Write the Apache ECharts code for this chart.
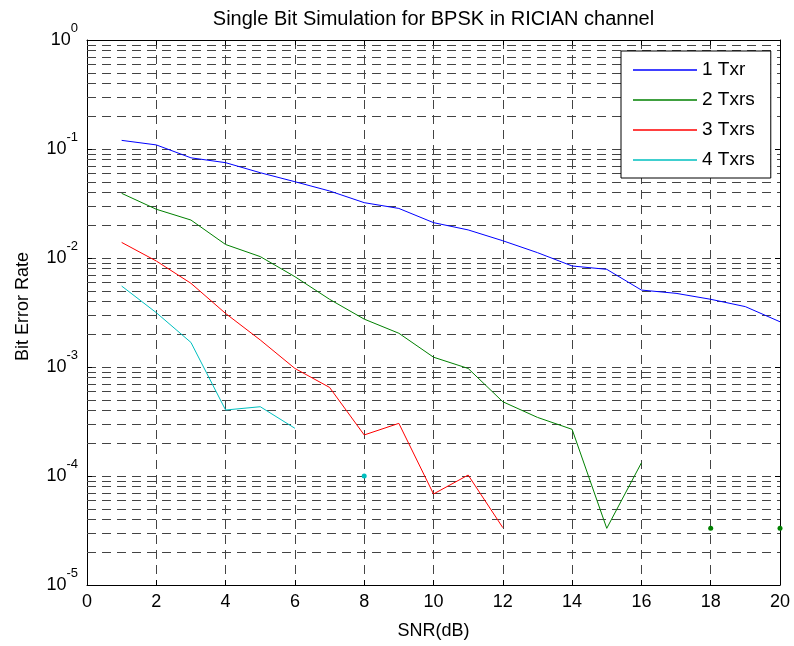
<!DOCTYPE html>
<html>
<head>
<meta charset="utf-8">
<script src="https://cdn.jsdelivr.net/npm/echarts@6/dist/echarts.min.js"></script>
<style>html,body{margin:0;padding:0;background:#fff}#c{width:794px;height:646px}</style>
</head>
<body>
<div id="c"></div>
<script>
// ---- data ----
var titleText = 'Single Bit Simulation for BPSK in RICIAN channel';
var xName = 'SNR(dB)';
var yName = 'Bit Error Rate';
var snr = [1,2,3,4,5,6,7,8,9,10,11,12,13,14,15,16,17,18,19,20];
var seriesNames = ['1 Txr', '2 Txrs', '3 Txrs', '4 Txrs'];
var ber1 = [0.120, 0.109, 0.083, 0.0749, 0.0606, 0.0501, 0.0412, 0.0322, 0.0285, 0.0211,
            0.0181, 0.0144, 0.0112, 0.00845, 0.00787, 0.00508, 0.00474, 0.00418, 0.00358, 0.0026];
var ber2 = [0.0392, 0.0280, 0.0223, 0.0133, 0.0103, 0.00674, 0.00418, 0.00275, 0.00204, 0.00123,
            0.00097, 0.00048, 0.000345, 0.000268, 0.0000331, 0.000132, null, 0.0000331, null, 0.0000331];
var ber3 = [0.0139, 0.00938, 0.00586, 0.0031, 0.00177, 0.00097, 0.00065, 0.000238, 0.000304, 0.0000684,
            0.000102, 0.0000336, null, null, null, null, null, null, null, null];
var ber4 = [0.00553, 0.00315, 0.00168, 0.000403, 0.000432, 0.000274, null, 0.0001, null, null,
            null, null, null, null, null, null, null, null, null, null];
var xTicks = [0,2,4,6,8,10,12,14,16,18,20];
var yDecades = [-5,-4,-3,-2,-1,0];
var minorMantissas = [2,3,4,5,6,7,8,9];

// ---- styling ----
var FONT = '"Liberation Sans", Arial, Helvetica, sans-serif';
var colors = ['#0000FF', '#008000', '#FF0000', '#00BFBF'];
var gridDash = {type: [9, 6], color: '#444', width: 1};

function buildData(arr) {
  return snr.map(function (x, i) {
    var v = arr[i];
    if (v === null) return [x, null];
    var prevNull = (i === 0) || arr[i - 1] === null;
    var nextNull = (i === arr.length - 1) || arr[i + 1] === null;
    if (prevNull && nextNull) {
      return {value: [x, v], symbol: 'circle', symbolSize: 5};
    }
    return [x, v];
  });
}

var minorVals = [];
yDecades.slice(0, -1).forEach(function (e) {
  minorMantissas.forEach(function (m) { minorVals.push(m * Math.pow(10, e)); });
});

var chart = echarts.init(document.getElementById('c'), null, {renderer: 'canvas'});

// center the title over the plot area
var cv = document.createElement('canvas').getContext('2d');
cv.font = '20px ' + FONT;
var tW = cv.measureText(titleText).width;
var plotLeft = 87, plotRight = 780, plotTop = 40, plotBottom = 585;
var titleLeft = (plotLeft + plotRight) / 2 - tW / 2 - 5;

var dataSeries = [ber1, ber2, ber3, ber4].map(function (arr, k) {
  return {
    name: seriesNames[k],
    type: 'line',
    data: buildData(arr),
    xAxisIndex: 0,
    yAxisIndex: 0,
    symbol: 'none',
    showSymbol: true,
    showAllSymbol: true,
    connectNulls: false,
    lineStyle: {color: colors[k], width: 1},
    itemStyle: {color: colors[k]},
    color: colors[k],
    z: 5
  };
});

var supLabel = function (v) {
  var e = Math.round(Math.log10(v));
  return '{b|10}{s|' + e + '}';
};

var option = {
  animation: false,
  backgroundColor: '#fff',
  title: {
    text: titleText,
    left: titleLeft,
    top: 4,
    textStyle: {fontFamily: FONT, fontSize: 20, fontWeight: 'normal', color: '#000'}
  },
  grid: {left: plotLeft, right: 794 - plotRight, top: plotTop, bottom: 646 - plotBottom, containLabel: false},
  legend: {
    data: seriesNames.map(function (n) { return {name: n, icon: 'rect'}; }),
    orient: 'vertical',
    left: 621,
    top: 51,
    itemWidth: 64,
    itemHeight: 1.5,
    itemGap: 10,
    padding: [9, 16, 8, 12],
    backgroundColor: '#fff',
    borderColor: '#000',
    borderWidth: 1,
    borderRadius: 0,
    textStyle: {fontFamily: FONT, fontSize: 19, color: '#000', lineHeight: 20},
    z: 10
  },
  xAxis: [{
    type: 'value',
    min: 0, max: 20, interval: 2,
    name: xName,
    nameLocation: 'middle',
    nameGap: 37,
    nameTextStyle: {fontFamily: FONT, fontSize: 18, color: '#000'},
    axisLine: {show: true, onZero: false, lineStyle: {color: '#000', width: 1}},
    axisTick: {show: true, inside: true, length: 5, lineStyle: {color: '#000'}},
    axisLabel: {fontFamily: FONT, fontSize: 18, color: '#000', margin: 8,
      formatter: function (v) { return xTicks.indexOf(v) >= 0 ? String(v) : ''; }},
    splitLine: {show: true, lineStyle: gridDash}
  }, {
    type: 'value',
    position: 'top',
    min: 0, max: 20, interval: 2,
    axisLine: {show: true, onZero: false, lineStyle: {color: '#000', width: 1}},
    axisTick: {show: true, inside: true, length: 5, lineStyle: {color: '#000'}},
    axisLabel: {show: false},
    splitLine: {show: false}
  }],
  yAxis: [{
    type: 'log',
    logBase: 10,
    min: 1e-5, max: 1,
    name: yName,
    nameLocation: 'middle',
    nameGap: 55,
    nameRotate: 90,
    nameTextStyle: {fontFamily: FONT, fontSize: 18, color: '#000', padding: [0, 0, 0, 12]},
    axisLine: {show: true, onZero: false, lineStyle: {color: '#000', width: 1}},
    axisTick: {show: true, inside: true, length: 5, lineStyle: {color: '#000'}},
    axisLabel: {
      margin: 9,
      formatter: supLabel,
      rich: {
        b: {fontFamily: FONT, fontSize: 18, color: '#000', lineHeight: 20, verticalAlign: 'middle'},
        s: {fontFamily: FONT, fontSize: 13, color: '#000', lineHeight: 13, verticalAlign: 'middle', padding: [0, 0, 24, 0]}
      }
    },
    splitLine: {show: true, lineStyle: gridDash}
  }, {
    type: 'log',
    logBase: 10,
    min: 1e-5, max: 1,
    position: 'right',
    axisLine: {show: true, onZero: false, lineStyle: {color: '#000', width: 1}},
    axisTick: {show: true, inside: true, length: 5, lineStyle: {color: '#000'}},
    axisLabel: {show: false},
    splitLine: {show: false}
  }],
  series: [{
    type: 'line',
    data: [],
    xAxisIndex: 0,
    yAxisIndex: 0,
    silent: true,
    z: 1,
    markLine: {
      silent: true,
      precision: 12,
      symbol: ['none', 'none'],
      label: {show: false},
      lineStyle: gridDash,
      emphasis: {disabled: true},
      data: minorVals.map(function (v) { return {yAxis: v}; })
    }
  }].concat(dataSeries)
};
chart.setOption(option);
</script>
</body>
</html>
